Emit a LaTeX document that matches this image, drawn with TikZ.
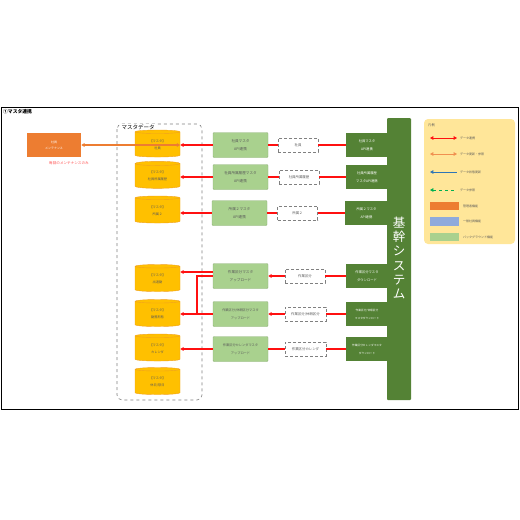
\documentclass[tikz,border=0pt]{standalone}
\usepackage{fontspec}
\setmainfont{Noto Sans CJK JP}
\usetikzlibrary{shapes.geometric,arrows.meta}
\definecolor{lgreen}{HTML}{A9D18E}
\definecolor{dgreen}{HTML}{548235}
\definecolor{orng}{HTML}{ED7D31}
\definecolor{gold}{HTML}{FFC000}
\definecolor{goldedge}{HTML}{F0A020}
\definecolor{lyellow}{HTML}{FFE699}
\definecolor{lblue}{HTML}{8FAADC}
\definecolor{redl}{HTML}{FF1010}
\definecolor{txt}{HTML}{595959}
\definecolor{bluel}{HTML}{2E75B6}
\definecolor{greenl}{HTML}{00B050}
\begin{document}
\begin{tikzpicture}[x=1pt,y=-1pt,
  lbox/.style={draw=lgreen!85!black, fill=lgreen, rounded corners=1pt, minimum width=55pt, minimum height=25pt, inner sep=0pt, align=center, text=txt, font=\fontsize{3.6}{8.2}\selectfont},
  kbox/.style={fill=dgreen, minimum width=42pt, minimum height=24pt, inner sep=0pt, align=center, text=white, font=\fontsize{3.3}{8}\selectfont},
  dbox/.style={draw=gray, densely dashed, fill=white, minimum width=40pt, minimum height=14pt, inner sep=0pt, align=center, text=txt, font=\fontsize{3.4}{6}\selectfont},
  db/.style={cylinder, shape border rotate=90, aspect=0.22, draw=goldedge, fill=gold, minimum width=45pt, minimum height=27pt, inner sep=0pt, align=center, text=txt, font=\fontsize{3.2}{7.4}\selectfont},
  redline/.style={color=redl, line width=1.1pt},
  redarrow/.style={redline, -{Triangle[length=3.4pt,width=3.6pt]}},
  legtxt/.style={anchor=west, text=txt, font=\fontsize{3}{4}\selectfont, inner sep=0pt}
]
\useasboundingbox (0,0) rectangle (520,520);
% frame
\draw[line width=0.8pt] (1,107) rectangle (518,409);
\node[anchor=west, inner sep=0pt, font=\bfseries\fontsize{4.8}{6}\selectfont] (title) at (3,112) {①マスタ連携};

% admin box
\node[fill=orng, minimum width=54pt, minimum height=24pt, inner sep=0pt, align=center, text=white, font=\fontsize{3}{6}\selectfont] (adm) at (54,145) {社員\\メンテナンス};
\node[text=redl!75, inner sep=0pt, font=\fontsize{3.6}{5}\selectfont] (note) at (69,163) {毎回のメンテナンスのみ};

% master data group
\draw[gray, dashed, line width=0.6pt, rounded corners=5pt] (117,124) rectangle (202,400);
\node[fill=white, inner sep=0.5pt, anchor=west, font=\fontsize{5.5}{6}\selectfont] (grp) at (121,127) {マスタデータ};

\node[db] (c1) at (157.5,144.5) {【マスタ】\\社員};
\node[db] (c2) at (157.5,176) {【マスタ】\\社員所属履歴};
\node[db] (c3) at (157.5,210.5) {【マスタ】\\所属２};
\node[db] (c4) at (157.5,279) {【マスタ】\\出退勤};
\node[db] (c5) at (157.5,314) {【マスタ】\\勤務形態};
\node[db] (c6) at (157.5,348.5) {【マスタ】\\カレンダ};
\node[db] (c7) at (157.5,382) {【マスタ】\\休日/祭日};

% core system bar
\node[fill=dgreen, minimum width=24pt, minimum height=282pt, inner sep=0pt, rounded corners=1pt] (core) at (399,259) {};
\node[text=white, align=center, inner sep=0pt, font=\fontsize{12.5}{14.2}\selectfont] (coretxt) at (399,258) {基\\幹\\シ\\ス\\テ\\ム};

% light boxes
\node[lbox] (l1) at (240.5,145) {社員マスタ\\API連携};
\node[lbox] (l2) at (240.5,177) {社員所属履歴マスタ\\API連携};
\node[lbox] (l3) at (239.5,213) {所属２マスタ\\API連携};
\node[lbox] (l4) at (240.5,276) {作業区分マスタ\\アップロード};
\node[lbox, font=\fontsize{3.2}{8.2}\selectfont] (l5) at (240.5,314) {作業区分/休暇区分マスタ\\アップロード};
\node[lbox, font=\fontsize{3.2}{8.2}\selectfont] (l6) at (240.5,349) {作業区分カレンダマスタ\\アップロード};

% dashed boxes
\node[dbox] (d1) at (298,145) {社員};
\node[dbox] (d2) at (299,177) {社員所属履歴};
\node[dbox] (d3) at (297.5,213) {所属２};
\node[dbox] (d4) at (305,276) {作業区分};
\node[dbox, minimum width=41pt] (d5) at (305.5,314) {作業区分/休暇区分};
\node[dbox, minimum width=41pt] (d6) at (305.5,349) {作業区分カレンダ};

% dark boxes
\node[kbox] (k1) at (367,145) {社員マスタ\\API連携};
\node[kbox] (k2) at (367,177) {社員所属履歴\\マスタAPI連携};
\node[kbox, minimum width=43pt] (k3) at (366.5,213) {所属２マスタ\\API連携};
\node[kbox] (k4) at (367,276) {作業区分マスタ\\ダウンロード};
\node[kbox, font=\fontsize{2.7}{8}\selectfont] (k5) at (367,314) {作業区分/休暇区分\\マスタダウンロード};
\node[kbox, font=\fontsize{2.7}{8}\selectfont] (k6) at (367,349) {作業区分カレンダマスタ\\ダウンロード};

% connectors
\draw[color=orng, line width=1.1pt, {Triangle[length=3.4pt,width=3.6pt]}-{Triangle[length=3.4pt,width=3.6pt]}] (adm.east) -- (adm.east -| c1.east);

\draw[redarrow] (l1.west) -- (l1.west -| c1.east);
\draw[redarrow] (l2.west) -- (l2.west -| c2.east);
\draw[redarrow] (l3.west) -- (l3.west -| c3.east);
\draw[redarrow] ([yshift=4pt]l4.west) -- ([yshift=4pt]l4.west -| c4.east);
\draw[redarrow] (l5.west) -- (l5.west -| c5.east);
\draw[redarrow] (l6.west) -- (l6.west -| c6.east);
\coordinate (j5) at (197,314);
\draw[redline] (l4.west) -| (j5);

\draw[redline] (l1.east) -- (d1.west);
\draw[redline] (l2.east) -- (d2.west);
\draw[redline] (l3.east) -- (d3.west);
\draw[redarrow] (d4.west) -- (l4.east);
\draw[redarrow] (d5.west) -- (l5.east);
\draw[redline] (l6.east) -- (d6.west);
\draw[redline] (d1.east) -- (k1.west);
\draw[redline] (d2.east) -- (k2.west);
\draw[redline] (d3.east) -- (k3.west);
\draw[redline] (d4.east) -- (k4.west);
\draw[redline] (d5.east) -- (k5.west);
\draw[redline] (d6.east) -- (k6.west);

% legend
\node[fill=lyellow, rounded corners=4pt, minimum width=91pt, minimum height=125pt, inner sep=0pt] (leg) at (469.5,181.5) {};
\node[anchor=west, text=txt, inner sep=0pt, font=\fontsize{3.3}{4}\selectfont] (legt) at (428,125) {凡例};
\coordinate (a1) at (430,138); \coordinate (b1) at (457,138);
\coordinate (a2) at (430,154); \coordinate (b2) at (457,154);
\coordinate (a3) at (430,172); \coordinate (b3) at (457,172);
\coordinate (a4) at (430,190); \coordinate (b4) at (457,190);
\draw[color=redl, line width=1pt, {Triangle[length=3.4pt,width=3.6pt]}-{Triangle[length=3.4pt,width=3.6pt]}] (a1) -- (b1);
\draw[color=orng!85, line width=1pt, {Triangle[length=3.4pt,width=3.6pt]}-{Triangle[length=3.4pt,width=3.6pt]}] (a2) -- (b2);
\draw[color=bluel, line width=1pt, {Triangle[length=3.4pt,width=3.6pt]}-] (a3) -- (b3);
\draw[color=greenl, line width=1pt, dashed, {Triangle[length=3.4pt,width=3.6pt]}-] (a4) -- (b4);
\node[legtxt] (t1) at (460,138) {データ連携};
\node[legtxt] (t2) at (460,154) {データ更新・参照};
\node[legtxt] (t3) at (460,172) {データ状態更新};
\node[legtxt] (t4) at (460,190) {データ参照};
\node[fill=orng, minimum width=29pt, minimum height=8pt, inner sep=0pt] (s1) at (444.5,206) {};
\node[fill=lblue, minimum width=29pt, minimum height=9pt, inner sep=0pt] (s2) at (444.5,221.5) {};
\node[fill=lgreen, minimum width=29pt, minimum height=8pt, inner sep=0pt] (s3) at (444.5,237) {};
\node[legtxt] (t5) at (463,206) {管理者機能};
\node[legtxt] (t6) at (463,221.5) {一般社員機能};
\node[legtxt] (t7) at (463,237) {バックグラウンド機能};
\end{tikzpicture}
\end{document}
